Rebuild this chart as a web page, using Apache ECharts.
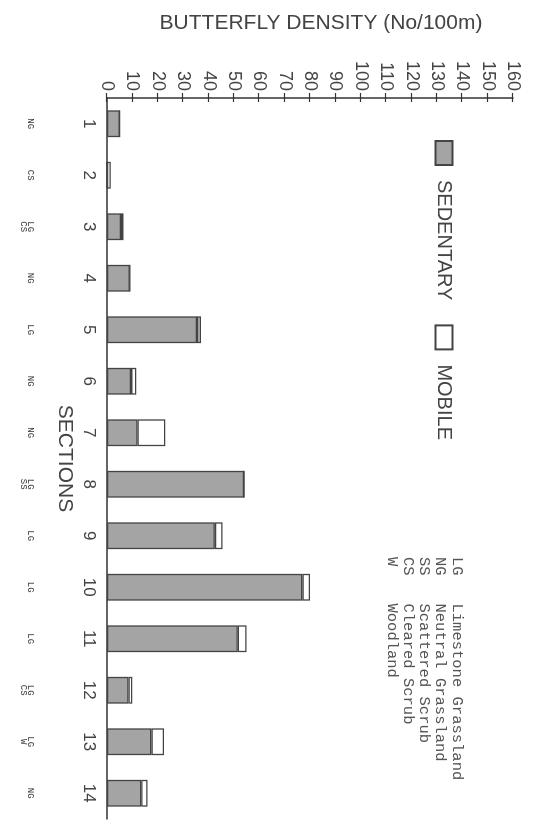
<!DOCTYPE html>
<html>
<head>
<meta charset="utf-8">
<script src="https://cdn.jsdelivr.net/npm/echarts@6/dist/echarts.min.js"></script>
<style>
	html, body { margin: 0; padding: 0; background: #fff; overflow: hidden; }
	/* the scanned figure is turned a quarter clockwise, so draw it upright and rotate the box */
	#main {
		position: absolute; left: 0; top: 0;
		width: 827px; height: 533px;
		transform-origin: 0 0;
		transform: translate(533px, 0) rotate(90deg);
	}
</style>
</head>
<body>
<div id="main"></div>
<script>
var sections = ['1', '2', '3', '4', '5', '6', '7', '8', '9', '10', '11', '12', '13', '14'];
var habitat = ['NG', 'CS', 'LG\nCS', 'NG', 'LG', 'NG', 'NG', 'LG\nSS', 'LG', 'LG', 'LG', 'LG\nCS', 'LG\nW', 'NG'];
var sedentary = [5, 0, 5.5, 9, 35.5, 9.5, 12, 54, 42.5, 77, 51.5, 8.5, 17.5, 13.5];
var mobile = [0, 1.5, 1, 0, 1.5, 2, 11, 0, 3, 3, 3.5, 1.5, 5, 2.5];
var keyCodes = ['LG', 'NG', 'SS', 'CS', 'W'];
var keyNames = ['Limestone Grassland', 'Neutral Grassland', 'Scattered Scrub', 'Cleared Scrub', 'Woodland'];

var ink = '#444';
var sans = 'Liberation Sans';
var mono = 'Liberation Mono';

var keyLines = [];
for (var i = 0; i < keyCodes.length; i++) {
	keyLines.push(keyCodes[i].padEnd(5, ' ') + keyNames[i]);
}

var myChart = echarts.init(document.getElementById('main'), null, { width: 827, height: 533, renderer: 'canvas' });
var option = {
	backgroundColor: '#fff',
	animation: false,
	legend: {
		left: 135,
		top: 74,
		itemWidth: 24,
		itemHeight: 17,
		itemGap: 24,
		icon: 'rect',
		textStyle: { fontFamily: sans, fontSize: 20, color: ink, padding: [0, 0, 0, 10] },
		data: ['SEDENTARY', 'MOBILE']
	},
	graphic: [{
		type: 'text',
		left: 557,
		top: 68,
		style: {
			text: keyLines.join('\n'),
			font: '15.5px "' + mono + '"',
			lineHeight: 16.3,
			fill: '#555'
		}
	}],
	grid: { left: 98, right: 8, top: 20, bottom: 107 },
	xAxis: [{
		type: 'category',
		data: sections,
		position: 'bottom',
		name: 'SECTIONS',
		nameLocation: 'middle',
		nameGap: 30,
		nameTextStyle: { fontFamily: sans, fontSize: 21, color: ink },
		axisLine: { lineStyle: { color: '#333', width: 1.5 } },
		axisTick: { length: 5, lineStyle: { color: '#333', width: 1.2 } },
		axisLabel: { fontFamily: sans, fontSize: 17, color: ink, margin: 10 }
	}, {
		type: 'category',
		data: habitat,
		position: 'bottom',
		offset: 65,
		axisLine: { show: false },
		axisTick: { show: false },
		axisLabel: { fontFamily: mono, fontSize: 9, lineHeight: 7, color: '#333', margin: 8, verticalAlign: 'top' }
	}, {
		type: 'category',
		data: sections,
		position: 'bottom',
		axisLine: { show: false },
		axisLabel: { show: false },
		axisTick: { inside: true, length: 4, lineStyle: { color: '#333', width: 1.2 } }
	}],
	yAxis: [{
		type: 'value',
		min: 0,
		max: 160,
		interval: 10,
		position: 'left',
		name: 'BUTTERFLY DENSITY (No/100m)',
		nameLocation: 'middle',
		nameGap: 64,
		nameTextStyle: { fontFamily: sans, fontSize: 21, color: ink, padding: [0, 0, 0, 22] },
		axisLine: { show: true, lineStyle: { color: '#333', width: 1.5 } },
		axisTick: { show: true, length: 5, lineStyle: { color: '#333', width: 1.2 } },
		axisLabel: { fontFamily: sans, fontSize: 18, color: ink, margin: 7 },
		splitLine: { show: false }
	}, {
		type: 'value',
		min: 0,
		max: 160,
		interval: 10,
		position: 'left',
		axisLine: { show: false },
		axisLabel: { show: false },
		axisTick: { show: true, inside: true, length: 4, lineStyle: { color: '#333', width: 1.2 } },
		splitLine: { show: false }
	}],
	series: [{
		name: 'SEDENTARY',
		type: 'bar',
		stack: 'total',
		barWidth: '52%',
		data: sedentary,
		itemStyle: { color: '#a4a4a4', borderColor: '#444', borderWidth: 1.3 }
	}, {
		name: 'MOBILE',
		type: 'bar',
		stack: 'total',
		barWidth: '52%',
		data: mobile,
		itemStyle: { color: '#fff', borderColor: '#444', borderWidth: 1.3 }
	}]
};
myChart.setOption(option);
</script>
</body>
</html>
